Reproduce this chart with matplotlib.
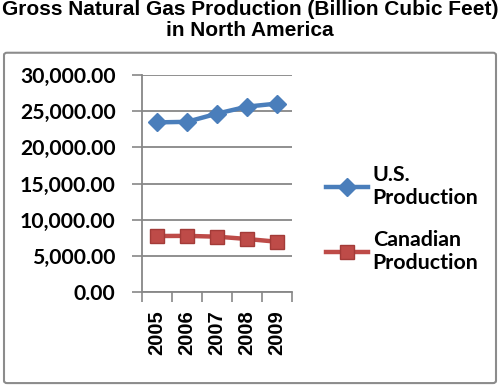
import matplotlib
matplotlib.use("Agg")
import matplotlib.pyplot as plt
from matplotlib.patches import FancyBboxPatch
from matplotlib.ticker import FuncFormatter, FixedLocator

years = ["2005", "2006", "2007", "2008", "2009"]
us_production = [23457, 23535, 24664, 25636, 26057]
canadian_production = [7740, 7760, 7650, 7330, 6950]
y_ticks = [0, 5000, 10000, 15000, 20000, 25000, 30000]

title = "Gross Natural Gas Production (Billion Cubic Feet)\nin North America"
us_label = "U.S.\nProduction"
ca_label = "Canadian\nProduction"

blue = "#4A7EBB"
red = "#BE4B48"
grid_gray = "#878787"

fig = plt.figure(figsize=(5.0, 3.85), dpi=100)
fig.patch.set_facecolor("white")

frame = FancyBboxPatch((0.008, 0.005), 0.984, 0.858, boxstyle="round,pad=0,rounding_size=0.006",
                       transform=fig.transFigure, facecolor="none", edgecolor="#8C8C8C",
                       linewidth=1.5, zorder=-5)
fig.patches.append(frame)

fig.text(0.5, 1.0, title, ha="center", va="top", family="Liberation Sans",
         fontweight="bold", fontsize=15.0, linespacing=1.12)

ax = fig.add_axes([0.284, 0.2416, 0.300, 0.5634])
ax.patch.set_alpha(0)
x = list(range(len(years)))
ax.plot(x, us_production, color=blue, lw=3.2, marker="D", ms=9.5, mfc=blue, mec=blue,
        label=us_label, zorder=3)
ax.plot(x, canadian_production, color=red, lw=3.2, marker="s", ms=10.5, mfc=red, mec="#A33B38",
        label=ca_label, zorder=3)

ax.set_xlim(-0.5, 4.5)
ax.set_ylim(0, 30000)
ax.yaxis.set_major_locator(FixedLocator(y_ticks))
ax.yaxis.set_major_formatter(FuncFormatter(lambda v, p: f"{v:,.2f}"))
ax.grid(axis="y", color=grid_gray, lw=1.3)
ax.set_axisbelow(True)

ax.xaxis.set_major_locator(FixedLocator([i - 0.5 for i in range(len(years) + 1)]))
ax.xaxis.set_major_formatter(FuncFormatter(lambda v, p: ""))
ax.xaxis.set_minor_locator(FixedLocator(x))
ax.set_xticklabels(years, minor=True)
ax.tick_params(axis="x", which="major", length=7, width=1.2, color=grid_gray, direction="out")
ax.tick_params(axis="x", which="minor", length=0, pad=13)
ax.tick_params(axis="y", length=7, width=1.2, color=grid_gray, direction="out", pad=12)
for lab in ax.get_xticklabels(minor=True):
    lab.set_rotation(90)
    lab.set_family("Liberation Sans")
    lab.set_fontweight("bold")
    lab.set_fontsize(14.5)
    lab.set_va("top")
for lab in ax.get_yticklabels():
    lab.set_family("Lato")
    lab.set_fontweight("bold")
    lab.set_fontsize(15.2)

for s in ["top", "right"]:
    ax.spines[s].set_visible(False)
for s in ["left", "bottom"]:
    ax.spines[s].set_color(grid_gray)
    ax.spines[s].set_linewidth(1.3)

leg = fig.legend(loc="upper left", bbox_to_anchor=(0.63, 0.60), frameon=False,
                 prop={"family": "Lato", "weight": "bold", "size": 15.4},
                 handlelength=2.0, handletextpad=0.2, labelspacing=1.0, borderpad=0)
for t in leg.get_texts():
    t.set_linespacing(1.22)

fig.savefig("out.png", dpi=100)
